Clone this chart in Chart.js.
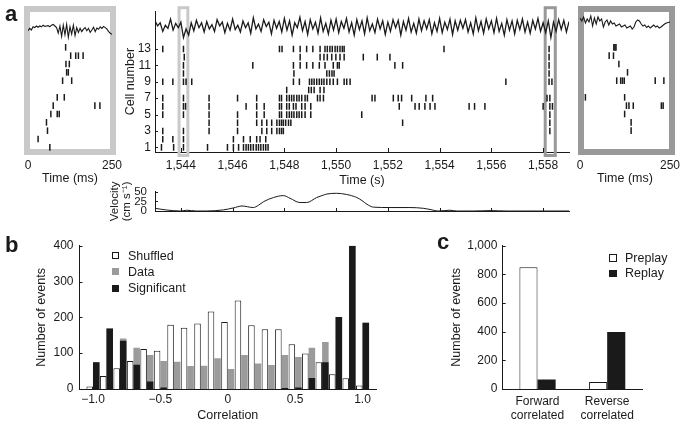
<!DOCTYPE html>
<html><head><meta charset="utf-8">
<script src="https://cdn.jsdelivr.net/npm/chart.js@4.4.1/dist/chart.umd.min.js"></script>
<style>
html,body{margin:0;padding:0;background:#fff;}
#fig{position:relative;width:686px;height:423px;overflow:hidden;font-family:"Liberation Sans",Arial,Helvetica,sans-serif;color:#1a1a1a;}
canvas{position:absolute;}
.box{position:absolute;box-sizing:border-box;}
.lbl{position:absolute;font-weight:bold;font-size:22px;line-height:22px;}
.leg{position:absolute;display:flex;align-items:center;font-size:12.5px;line-height:12.5px;height:12.5px;white-space:nowrap;}
.sw{box-sizing:border-box;width:7px;height:7px;}
</style></head>
<body><div id="fig">
<div class="box" style="left:24px;top:6px;width:92px;height:149px;border:6px solid #c9c9c9"></div>
<div class="box" style="left:578px;top:6px;width:97px;height:149px;border:6px solid #999"></div>
<canvas id="cMain" width="480" height="192" style="left:100px;top:0"></canvas>
<canvas id="cVel" width="480" height="50" style="left:100px;top:178px"></canvas>
<canvas id="cInL" width="140" height="192" style="left:0;top:0"></canvas>
<canvas id="cInR" width="126" height="192" style="left:560px;top:0"></canvas>
<canvas id="cB" width="390" height="195" style="left:0;top:228px"></canvas>
<canvas id="cC" width="256" height="195" style="left:430px;top:228px"></canvas>
<div class="lbl" style="left:5px;top:3px">a</div>
<div class="lbl" style="left:5px;top:234px">b</div>
<div class="lbl" style="left:437px;top:231px">c</div>
<div class="leg" style="left:112px;top:249.5px"><div class="sw" style="border:1px solid #1a1a1a;background:#fff;margin-right:9px"></div>Shuffled</div>
<div class="leg" style="left:112px;top:265.5px"><div class="sw" style="background:#9b9b9b;margin-right:9px"></div>Data</div>
<div class="leg" style="left:112px;top:282px"><div class="sw" style="background:#1a1a1a;margin-right:9px"></div>Significant</div>
<div class="leg" style="left:609px;top:251.8px"><div class="sw" style="border:1px solid #1a1a1a;background:#fff;margin-right:8.5px;width:7.5px;height:7.5px"></div>Preplay</div>
<div class="leg" style="left:609px;top:267px"><div class="sw" style="background:#1a1a1a;margin-right:8.5px;width:7.5px;height:7.5px"></div>Replay</div>
</div>
<script>
// ---------------- DATA ----------------
// Panel a: spike times (s) per cell, cell 1 .. cell 13
const cell1  = [1543.25,1543.72,1544.10,1545.03,1545.80,1546.03,1546.23,1546.42,1546.52,1546.61,1546.70,1546.80,1546.91,1547.00,1547.09,1547.19,1547.28,1547.37];
const cell2  = [1543.30,1543.69,1544.10,1546.03,1546.42,1546.68,1546.93,1547.06,1547.28];
const cell3  = [1543.30,1544.10,1545.09,1546.19,1547.13,1547.32,1547.51,1547.71,1547.81,1547.89,1547.96,1558.26];
const cell4  = [1545.09,1546.19,1546.93,1547.13,1547.32,1547.51,1547.71,1547.81,1547.89,1547.96,1548.05,1548.16,1548.25,1552.57,1558.26];
const cell5  = [1543.30,1544.10,1545.09,1546.19,1546.93,1547.22,1547.81,1547.89,1548.09,1548.19,1548.28,1548.37,1548.48,1548.57,1548.67,1548.80,1549.02,1550.99,1558.26];
const cell6  = [1543.30,1544.10,1544.18,1545.09,1546.52,1546.93,1547.22,1547.81,1547.89,1548.09,1548.19,1548.35,1548.45,1548.67,1548.80,1549.02,1552.44,1553.05,1553.21,1553.43,1553.63,1553.82,1555.14,1555.35,1555.75,1558.00,1558.26,1558.36];
const cell7  = [1543.30,1544.10,1545.09,1546.19,1546.93,1547.81,1547.89,1548.09,1548.19,1548.28,1548.37,1548.48,1548.57,1548.67,1548.80,1548.89,1549.28,1549.38,1549.51,1551.39,1551.50,1552.21,1552.40,1552.53,1552.92,1553.47,1553.73,1558.15,1558.26];
const cell8  = [1548.09,1548.94,1549.04,1549.15,1549.38,1549.53];
const cell9  = [1543.30,1543.69,1544.10,1544.20,1544.42,1548.35,1548.58,1548.97,1549.06,1549.15,1549.25,1549.35,1549.44,1549.53,1549.64,1549.76,1549.89,1550.05,1550.31,1550.41,1550.54,1556.56,1558.23,1558.34];
const cell10 = [1544.10,1548.37,1549.64,1549.74,1549.84,1549.92,1558.23];
const cell11 = [1544.10,1546.78,1548.35,1548.61,1548.86,1549.10,1549.35,1549.57,1549.89,1550.05,1550.12,1552.27,1552.57,1558.23];
const cell12 = [1544.13,1548.61,1549.38,1549.53,1549.66,1549.83,1549.99,1550.15,1550.31,1551.05,1551.59,1552.08,1558.23];
const cell13 = [1543.30,1544.10,1547.81,1547.91,1548.35,1548.61,1548.86,1549.10,1549.38,1549.57,1549.66,1549.76,1549.85,1549.96,1550.05,1550.15,1550.24,1550.31,1554.17,1558.23];
const mainCells = [cell1,cell2,cell3,cell4,cell5,cell6,cell7,cell8,cell9,cell10,cell11,cell12,cell13];

// highlighted windows (s)
const windowStarts = [1543.93, 1558.08];
const windowEnds   = [1544.27, 1558.47];

// LFP (arbitrary units) 1543 s .. 1559 s
const lfpMainStart = 1543, lfpMainEnd = 1559;
const lfpMain = [
 0.45,0.05,0.30,-0.40,0.10,-0.15,0.60,-0.30,0.25,-0.10,0.35,
 -0.90,-0.20,-0.70,0.30,-0.35,0.50,-0.10,0.30,-0.45,0.40,
 -0.20,0.15,-0.40,0.55,0.05,0.35,-0.50,0.25,-0.30,0.60,
 -0.25,0.10,-0.45,0.45,-0.10,0.30,-0.55,0.70,-0.20,0.20,
 -0.40,0.55,0.00,0.35,-0.60,0.50,-0.15,0.40,-0.45,0.65,
 -0.30,0.45,-0.70,0.30,-0.10,0.75,-0.35,0.40,-0.65,0.55,
 -0.20,0.35,-0.55,0.70,-0.40,0.25,-0.60,0.50,-0.30,0.60,
 -0.50,0.40,-0.15,0.65,-0.45,0.30,-0.70,0.55,-0.25,0.45,
 -0.60,0.70,-0.35,0.20,-0.50,0.60,-0.20,0.45,-0.65,0.35,
 -0.40,0.55,-0.10,0.50,-0.70,0.40,-0.30,0.65,-0.45,0.25,
 -0.55,0.60,-0.35,0.45,-0.20,0.55,-0.60,0.30,-0.40,0.65,
 -0.50,0.35,-0.25,0.60,-0.65,0.45,-0.30,0.50,-0.15,0.55,
 -0.45,0.30,-0.60,0.70,-0.35,0.40,-0.55,0.60,-0.20,0.45,
 -0.50,0.65,-0.40,0.25,-0.70,0.55,-0.30,0.45,-0.60,0.50,
 -0.25,0.60,-0.45,0.35,-0.55,0.50,-0.20,0.65,-0.40,0.30,
 -0.50,0.45,-0.90,0.35,-0.40,0.55,-0.25,0.50,-0.45,0.40];

const timeTicks = [1544,1546,1548,1550,1552,1554,1556,1558];
const cellTicks = [1,3,5,7,9,11,13];

// Velocity (cm/s)
const velT = [1543.0,1543.46,1544.0,1544.23,1544.6,1545.0,1545.65,1546.03,1546.36,1546.8,1547.0,1547.19,1547.58,1547.96,1548.22,1548.6,1548.86,1549.25,1549.45,1549.64,1550.02,1550.4,1550.8,1551.0,1551.18,1551.44,1552.08,1552.85,1553.37,1553.63,1553.95,1554.4,1554.66,1555.3,1555.95,1556.6,1557.2,1559.0];
const velV = [7,2.5,0,2,0,0,3,8,13,9,15,24,35,40,33,22,22,35,40,44,46,43,35,27,18,10,9,9,7,4,0,2,0,0,1,0,0,0];
const velTicks = [0,25,50];

// Insets: spike times (ms) per cell 1..13
const leftInsetCells  = [[65],[30],[58],[55],[68,87,93],[75,199,214],[87,108],[],[103,130],[115,120],[113,123],[127,142,150,164],[112]];
const rightInsetCells = [[],[],[142],[142],[124],[129,136,148,226,231],[15,124],[],[102,113,118,123,209,233],[132],[108],[81,93],[94,97,100]];
const insetTicks = [0,250];
const lfpLeft = [-0.1,0.2,0.0,0.4,0.3,0.5,0.35,0.5,0.4,0.6,0.45,0.5,0.55,0.4,0.6,0.7,0.5,
 0.3,-0.4,0.5,-0.8,0.6,-0.6,0.7,-0.9,0.4,-0.5,0.6,-0.7,0.3,-0.3,
 0.2,-0.2,0.1,0.3,-0.1,0.2,-0.3,0.0,0.35,-0.2,0.25,0.1,0.4,0.2,0.45,0.3,0.1,-0.2,-0.4,-0.55];
const lfpRight = [0.6,0.3,0.7,0.1,0.5,0.2,0.8,-0.2,0.6,0.0,0.7,0.3,0.5,-0.3,0.2,0.4,-0.1,0.3,0.0,0.1,
 -0.2,-0.1,0.0,-0.3,-0.2,-0.1,-0.4,-0.3,-0.2,-0.5,-0.3,0.2,0.4,0.3,0.0,-0.2,-0.1,-0.35,-0.2,-0.4,
 -0.25,-0.1,-0.3,-0.2,-0.4,-0.3,-0.15,0.0,0.1,0.15,0.2];

// Panel b: correlation histogram
const binCenters  = [-1.0,-0.9,-0.8,-0.7,-0.6,-0.5,-0.4,-0.3,-0.2,-0.1,0.0,0.1,0.2,0.3,0.4,0.5,0.6,0.7,0.8,0.9,1.0];
const shuffled    = [7,36,58,78,112,107,179,171,183,216,187,247,178,167,167,125,99,75,41,30,10];
const dataCounts  = [75,169,141,115,95,78,76,64,65,86,56,95,71,67,95,89,115,131,201,400,185];
const significant = [75,169,135,68,21,4,0,0,0,0,0,0,0,0,3,4,31,75,201,400,185];
const corrTicks   = [-1,-0.5,0,0.5,1];

// Panel c
const cCategories = [['Forward','correlated'],['Reverse','correlated']];
const preplay = [849,49];
const replay  = [67,398];

// ---------------- RENDERING ----------------
const INK = '#1a1a1a', GRAY = '#9b9b9b';
Chart.defaults.font.family = '"Liberation Sans", Arial, Helvetica, sans-serif';
Chart.defaults.color = INK;

const inTicksPlugin = {id:'inTicks', afterDraw(chart, args, opts){
  const {ctx, chartArea:a} = chart;
  (opts.axes||[]).forEach(ax => {
    const s = chart.scales[ax.id];
    ctx.save(); ctx.strokeStyle = INK; ctx.lineWidth = 1; ctx.beginPath();
    s.ticks.forEach(t => {
      const p = Math.round(s.getPixelForValue(t.value)) + 0.5;
      if (s.isHorizontal()) { ctx.moveTo(p, a.bottom); ctx.lineTo(p, a.bottom - ax.len); }
      else { ctx.moveTo(a.left, p); ctx.lineTo(a.left + ax.len, p); }
    });
    ctx.stroke(); ctx.restore();
  });
}};
const winPlugin = {id:'winBoxes', beforeDatasetsDraw(chart, args, opts){
  const {ctx, chartArea:a, scales:{x}} = chart;
  (opts.starts||[]).forEach((s, i) => {
    const x0 = x.getPixelForValue(s), x1 = x.getPixelForValue(opts.ends[i]);
    ctx.save(); ctx.strokeStyle = opts.colors[i]; ctx.lineWidth = 3;
    ctx.strokeRect(x0, a.top - 3.5, x1 - x0, a.bottom - a.top + 7);
    ctx.restore();
  });
}};

function common(extra){
  return Object.assign({responsive:false, animation:false, devicePixelRatio:1, events:[]}, extra);
}
const noLegend = {legend:{display:false}, tooltip:{enabled:false}};
const border = {display:true, color:INK, width:1};
const noGrid = {display:false, drawTicks:false, tickLength:0};
const setTicks = arr => (s => { s.ticks = arr.map(v => ({value:v})); });

function rasterPoints(cells, timeOf){
  const pts = [];
  cells.forEach((times, i) => times.forEach(t => pts.push({x: timeOf(t), y: i + 1})));
  return pts;
}
function seriesPoints(vals, x0, x1){
  const step = (x1 - x0) / (vals.length - 1);
  return vals.map((v, i) => ({x: x0 + i * step, y: v}));
}
const spikeStyle = {pointStyle:'line', pointRotation:90, pointRadius:3.3, pointBorderWidth:1.5, pointBorderColor:INK, pointBackgroundColor:INK, showLine:false};
const ROW_MIN = 0.44, ROW_MAX = 17.6;

// Main raster
new Chart(document.getElementById('cMain'), {
  type:'scatter',
  data:{datasets:[
    Object.assign({data: rasterPoints(mainCells, t => t), yAxisID:'y'}, spikeStyle),
    {type:'line', data: seriesPoints(lfpMain, lfpMainStart, lfpMainEnd), yAxisID:'yL', borderColor:INK, borderWidth:1.3, pointRadius:0, tension:0}
  ]},
  options: common({
    layout:{padding:{top:9, right:11, left:0, bottom:0}},
    plugins: Object.assign({inTicks:{axes:[{id:'x',len:4},{id:'y',len:3}]},
      winBoxes:{starts:windowStarts, ends:windowEnds, colors:['#c9c9c9','#999']}}, noLegend),
    scales:{
      x:{type:'linear', min:1543, max:1559, afterBuildTicks:setTicks(timeTicks), afterFit:s=>{s.height=40;},
        grid:noGrid, border:border,
        ticks:{padding:6, autoSkip:false, maxRotation:0, font:{size:12}, color:INK, callback:v=>v.toLocaleString('en-US')},
        title:{display:true, text:'Time (s)', font:{size:12.5}, color:INK, padding:{top:0,bottom:4}}},
      y:{type:'linear', position:'left', min:ROW_MIN, max:ROW_MAX, afterBuildTicks:setTicks(cellTicks), afterFit:s=>{s.width=55;},
        grid:noGrid, border:border,
        ticks:{padding:4, autoSkip:false, font:{size:12}, color:INK},
        title:{display:true, text:'Cell number', font:{size:12.5}, color:INK, padding:{top:23,bottom:0}}},
      yL:{type:'linear', position:'right', display:false, min:-10.2, max:1.24}
    }
  }),
  plugins:[inTicksPlugin, winPlugin]
});

// Velocity
new Chart(document.getElementById('cVel'), {
  type:'line',
  data:{datasets:[{data: velT.map((t,i)=>({x:t, y:velV[i]})), borderColor:INK, borderWidth:1, pointRadius:0, cubicInterpolationMode:'monotone'}]},
  options: common({
    layout:{padding:{top:13.7, right:11, left:0, bottom:0}},
    plugins: Object.assign({inTicks:{axes:[{id:'x',len:3},{id:'y',len:3}]}}, noLegend),
    scales:{
      x:{type:'linear', min:1543, max:1559, afterBuildTicks:setTicks(timeTicks), afterFit:s=>{s.height=17;},
        grid:noGrid, border:border, ticks:{display:false}},
      y:{type:'linear', min:0, max:50, afterBuildTicks:setTicks(velTicks), afterFit:s=>{s.width=55;},
        grid:noGrid, border:border, ticks:{padding:8, autoSkip:false, font:{size:11.5, lineHeight:1}, color:INK},
        title:{display:true, text:['Velocity','(cm s\u207B\u00B9)'], font:{size:11.5, lineHeight:1.05}, color:INK, padding:{top:9,bottom:0}}}
    }
  }),
  plugins:[inTicksPlugin]
});

// Insets
function inset(id, cells, lfp, lfpMin, lfpMax, padL, padR){
  new Chart(document.getElementById(id), {
    type:'scatter',
    data:{datasets:[
      Object.assign({data: rasterPoints(cells, t => t), yAxisID:'y'}, spikeStyle),
      {type:'line', data: seriesPoints(lfp, 0, 250), yAxisID:'yL', borderColor:INK, borderWidth:1.1, pointRadius:0, tension:0}
    ]},
    options: common({
      layout:{padding:{top:9, right:padR, left:padL, bottom:0}},
      plugins: noLegend,
      scales:{
        x:{type:'linear', min:0, max:250, afterBuildTicks:setTicks(insetTicks), afterFit:s=>{s.height=40;},
          grid:noGrid, border:{display:false},
          ticks:{padding:6, autoSkip:false, maxRotation:0, font:{size:12}, color:INK},
          title:{display:true, text:'Time (ms)', font:{size:12.5}, color:INK, padding:{top:0,bottom:6}}},
        y:{type:'linear', display:false, min:ROW_MIN, max:ROW_MAX},
        yL:{type:'linear', position:'right', display:false, min:lfpMin, max:lfpMax}
      }
    })
  });
}
inset('cInL', leftInsetCells, lfpLeft, -15.25, 2.625, 28, 28);
inset('cInR', rightInsetCells, lfpRight, -12.8, 1.5, 20, 13);

// Panel b
const fmtCorr = v => v === 0 ? '0' : (v < 0 ? '\u2212' : '') + Math.abs(v).toFixed(1);
new Chart(document.getElementById('cB'), {
  type:'bar',
  data:{datasets:[
    {label:'Shuffled', data: binCenters.map((c,i)=>({x:c, y:shuffled[i]})), backgroundColor:'#fff', borderColor:INK, borderWidth:1, stack:'s', order:1},
    {label:'Data', data: binCenters.map((c,i)=>({x:c, y:dataCounts[i]})), backgroundColor:GRAY, borderWidth:0, stack:'d', order:3},
    {label:'Significant', data: binCenters.map((c,i)=>({x:c, y:significant[i]})), backgroundColor:INK, borderWidth:0, stack:'d', order:2}
  ]},
  options: common({
    layout:{padding:{top:17.7, right:14, left:0, bottom:0}},
    datasets:{bar:{categoryPercentage:0.97, barPercentage:1}},
    plugins: Object.assign({inTicks:{axes:[{id:'y',len:3}]}}, noLegend),
    scales:{
      x:{type:'linear', offset:false, min:-1.1, max:1.1, afterBuildTicks:setTicks(corrTicks), afterFit:s=>{s.height=34;},
        grid:Object.assign({offset:false}, noGrid), border:border,
        ticks:{padding:3, autoSkip:false, maxRotation:0, font:{size:12}, color:INK, callback:fmtCorr},
        title:{display:true, text:'Correlation', font:{size:12.5}, color:INK, padding:{top:0,bottom:0}}},
      y:{type:'linear', stacked:false, min:0, max:400, ticks:{stepSize:100, padding:6, font:{size:12}, color:INK},
        afterFit:s=>{s.width=79.5;}, grid:noGrid, border:border,
        title:{display:true, text:'Number of events', font:{size:12.5}, color:INK, padding:{top:34,bottom:0}}}
    }
  }),
  plugins:[inTicksPlugin]
});

// Panel c
new Chart(document.getElementById('cC'), {
  type:'bar',
  data:{labels:cCategories, datasets:[
    {label:'Preplay', data:preplay, backgroundColor:'#fff', borderColor:INK, borderWidth:1},
    {label:'Replay', data:replay, backgroundColor:INK, borderWidth:0}
  ]},
  options: common({
    layout:{padding:{top:17.7, right:44, left:0, bottom:0}},
    datasets:{bar:{categoryPercentage:0.52, barPercentage:1}},
    plugins: Object.assign({inTicks:{axes:[{id:'y',len:3}]}}, noLegend),
    scales:{
      x:{afterFit:s=>{s.height=34;}, grid:noGrid, border:border,
        ticks:{padding:5, font:{size:12}, color:INK, maxRotation:0}},
      y:{min:0, max:1000, ticks:{stepSize:200, padding:5.4, font:{size:12}, color:INK, callback:v=>v.toLocaleString('en-US')},
        afterFit:s=>{s.width=72.7;}, grid:noGrid, border:border,
        title:{display:true, text:'Number of events', font:{size:12.5}, color:INK, padding:{top:19,bottom:0}}}
    }
  }),
  plugins:[inTicksPlugin]
});
</script>
</body></html>
